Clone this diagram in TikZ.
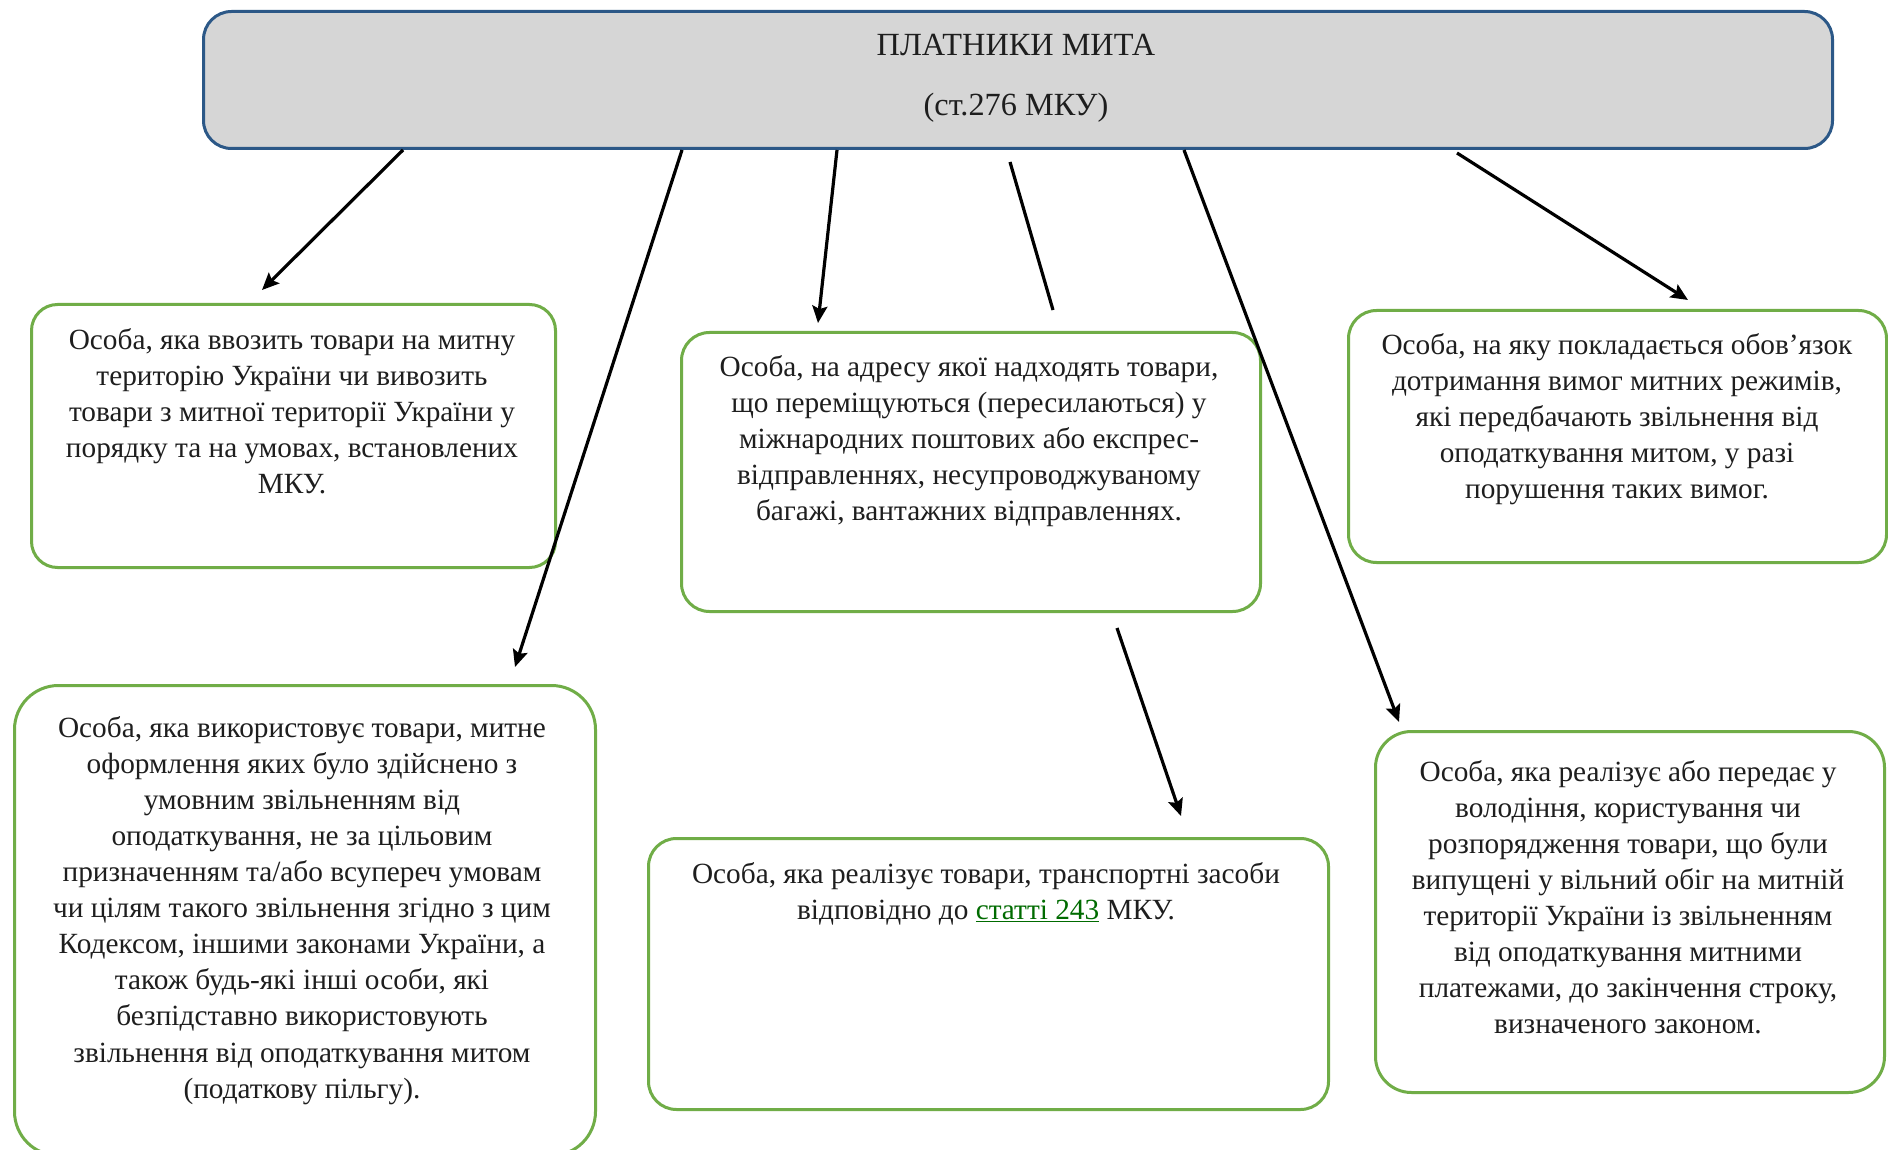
\documentclass[tikz,border=0pt]{standalone}
\usepackage{fontspec}
\setmainfont{Liberation Serif}
\usetikzlibrary{arrows.meta}
\definecolor{boxgreen}{HTML}{70AD47}
\definecolor{topblue}{HTML}{2C5887}
\definecolor{topfill}{HTML}{D6D6D6}
\definecolor{txt}{HTML}{1E1E1E}
\definecolor{linkgreen}{HTML}{006B00}
\tikzset{
  greenbox/.style={draw=boxgreen, line width=3pt, rounded corners=28pt, anchor=north west, inner sep=0pt},
  topbox/.style={draw=topblue, fill=topfill, line width=3pt, rounded corners=28pt, anchor=north west, inner sep=0pt},
  bodytext/.style={anchor=north, align=center, inner sep=0pt, text=txt, font=\fontsize{29.3}{36.1}\selectfont},
  titletext/.style={anchor=base, inner sep=0pt, text=txt, font=\fontsize{32.3}{36}\selectfont},
  arr/.style={line width=3.2pt, -{Stealth[length=17pt,width=15pt,inset=3pt]}},
  plainline/.style={line width=3.2pt}
}
\begin{document}
\begin{tikzpicture}[x=1pt,y=-1pt]
\useasboundingbox (0,0) rectangle (1888,1150);
\clip (0,0) rectangle (1888,1150);
\fill[white] (0,0) rectangle (1888,1150);

% top box
\node[topbox, minimum width=1629pt, minimum height=137pt] (top) at (202,10) {};
\node[titletext] (t1) at (1016,56) {ПЛАТНИКИ МИТА};
\node[titletext] (t2) at (1016,116) {(ст.276 МКУ)};

% boxes
\node[greenbox, rounded corners=26pt, minimum width=524pt, minimum height=263pt] (b1) at (30,303) {};
\node[greenbox, minimum width=579pt, minimum height=279pt] (b2) at (680,331) {};
\node[greenbox, minimum width=538pt, minimum height=252pt] (b3) at (1347,309) {};
\node[greenbox, rounded corners=44pt, minimum width=581pt, minimum height=470pt] (b4) at (13,684) {};
\node[greenbox, minimum width=680pt, minimum height=271pt] (b5) at (647,837) {};
\node[greenbox, rounded corners=36pt, minimum width=509pt, minimum height=361pt] (b6) at (1374,730) {};

% texts
\node[bodytext] (x1) at (292,328) {Особа, яка ввозить товари на митну\\територію України чи вивозить\\товари з митної території України у\\порядку та на умовах, встановлених\\МКУ.};
\node[bodytext] (x2) at (969,355) {Особа, на адресу якої надходять товари,\\що переміщуються (пересилаються) у\\міжнародних поштових або експрес-\\відправленнях, несупроводжуваному\\багажі, вантажних відправленнях.};
\node[bodytext] (x3) at (1617,333) {Особа, на яку покладається обов’язок\\дотримання вимог митних режимів,\\які передбачають звільнення від\\оподаткування митом, у разі\\порушення таких вимог.};
\node[bodytext] (x4) at (302,716) {Особа, яка використовує товари, митне\\оформлення яких було здійснено з\\умовним звільненням від\\оподаткування, не за цільовим\\призначенням та/або всупереч умовам\\чи цілям такого звільнення згідно з цим\\Кодексом, іншими законами України, а\\також будь-які інші особи, які\\безпідставно використовують\\звільнення від оподаткування митом\\(податкову пільгу).};
\node[bodytext] (x5) at (986,862) {Особа, яка реалізує товари, транспортні засоби\\відповідно до {\color{linkgreen}\underline{статті 243}} МКУ.};
\node[bodytext] (x6) at (1628,760) {Особа, яка реалізує або передає у\\володіння, користування чи\\розпорядження товари, що були\\випущені у вільний обіг на митній\\території України із звільненням\\від оподаткування митними\\платежами, до закінчення строку,\\визначеного законом.};

% connectors
\draw[arr] ([xshift=201pt]top.south west) -- ([xshift=232pt,yshift=13pt]b1.north west);
\draw[arr] ([xshift=480pt]top.south west) -- ([xshift=502pt,yshift=17pt]b4.north west);
\draw[arr] ([xshift=635pt]top.south west) -- ([xshift=138pt,yshift=8pt]b2.north west);
\coordinate (c1) at ([xshift=373pt,yshift=21pt]b2.north west);
\draw[plainline] ([xshift=808pt,yshift=-12pt]top.south west) -- (c1);
\coordinate (c2) at ([xshift=437pt,yshift=-15pt]b2.south west);
\draw[arr] (c2) -- ([xshift=534pt,yshift=21pt]b5.north west);
\draw[arr] ([xshift=982pt]top.south west) -- ([xshift=25pt,yshift=8pt]b6.north west);
\draw[arr] ([xshift=1255pt,yshift=-3pt]top.south west) -- ([xshift=341pt,yshift=9pt]b3.north west);
\end{tikzpicture}
\end{document}
